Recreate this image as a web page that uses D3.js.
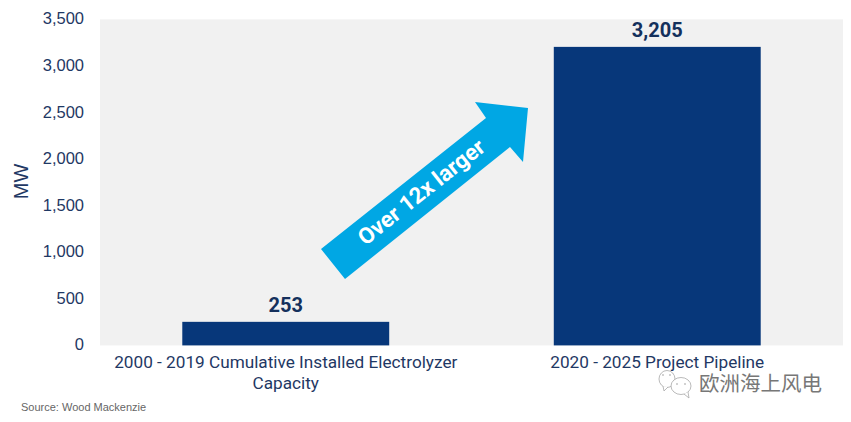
<!DOCTYPE html>
<html>
<head>
<meta charset="utf-8">
<script src="https://d3js.org/d3.v7.min.js"></script>
<style>
  html, body { margin: 0; padding: 0; background: #fff; }
  svg { display: block; }
</style>
</head>
<body>
<svg id="chart" width="851" height="422"></svg>
<script>
const categories = ["2000 - 2019 Cumulative Installed Electrolyzer Capacity", "2020 - 2025 Project Pipeline"];
const values = [253, 3205];
const valueLabels = ["253", "3,205"];
const yTicks = [0, 500, 1000, 1500, 2000, 2500, 3000, 3500];

const navy = "#07377a";
const inkText = "#1f3864";

const svg = d3.select("#chart");
const margin = { top: 19.4, right: 8, bottom: 76.6, left: 100 };
const width = 851 - margin.left - margin.right;
const height = 422 - margin.top - margin.bottom;

const g = svg.append("g").attr("transform", `translate(${margin.left},${margin.top})`);

const x = d3.scaleBand().domain(categories).range([0, width]).paddingInner(0.443).paddingOuter(0.2215);
const y = d3.scaleLinear().domain([0, 3500]).range([height, 0]);

// plot background
g.append("rect")
  .attr("width", width)
  .attr("height", height)
  .attr("fill", "#f1f1f1");

// Y axis
const yAxis = g.append("g")
  .call(d3.axisLeft(y).tickValues(yTicks).tickFormat(d3.format(",")).tickSize(0).tickPadding(16));
yAxis.select(".domain").remove();
yAxis.selectAll("text")
  .attr("dy", "0.27em")
  .style("font-family", "Liberation Sans")
  .style("font-size", "16.5px")
  .attr("fill", inkText);

g.append("text")
  .attr("transform", `translate(-72,${y(1760)})rotate(-90)`)
  .attr("text-anchor", "middle")
  .style("font-family", "Liberation Sans")
  .style("font-size", "20px")
  .attr("fill", inkText)
  .text("MW");

// Bars
g.selectAll(".bar")
  .data(values)
  .join("rect")
  .attr("class", "bar")
  .attr("x", (d, i) => x(categories[i]))
  .attr("y", d => y(d))
  .attr("width", x.bandwidth())
  .attr("height", d => height - y(d))
  .attr("fill", navy);

g.selectAll(".bar-label")
  .data(values)
  .join("text")
  .attr("class", "bar-label")
  .attr("x", (d, i) => x(categories[i]) + x.bandwidth() / 2)
  .attr("y", d => y(d) - 10)
  .attr("text-anchor", "middle")
  .style("font-family", "Roboto")
  .style("font-weight", 700)
  .style("font-size", "20px")
  .attr("fill", "#14305c")
  .text((d, i) => valueLabels[i]);

// X axis labels, first one wraps by hand like the original
const categoryLines = [["2000 - 2019 Cumulative Installed Electrolyzer", "Capacity"], ["2020 - 2025 Project Pipeline"]];
categories.forEach((c, i) => {
  categoryLines[i].forEach((line, j) => {
    g.append("text")
      .attr("x", x(c) + x.bandwidth() / 2)
      .attr("y", height + 23 + j * 21)
      .attr("text-anchor", "middle")
      .style("font-family", "Roboto")
      .style("font-size", "17.2px")
      .attr("fill", inkText)
      .text(line);
  });
});

// Arrow annotation
svg.append("polygon")
  .attr("points", "321,249 345,279 510,147 523,162 528,108 475,102 486,118")
  .attr("fill", "#00a7e4");

svg.append("text")
  .attr("transform", "translate(426,198)rotate(-38.5)")
  .attr("text-anchor", "middle")
  .style("font-family", "Roboto")
  .style("font-weight", 700)
  .style("font-size", "22.5px")
  .attr("fill", "#fff")
  .text("Over 12x larger");

// Source
svg.append("text")
  .attr("x", 21)
  .attr("y", 411)
  .style("font-family", "Liberation Sans")
  .style("font-size", "11px")
  .attr("fill", "#666")
  .text("Source: Wood Mackenzie");

// Watermark
const mark = svg.append("g").attr("fill", "#fff").attr("stroke", "#a8a8a8").attr("stroke-width", 0.8);
mark.append("ellipse").attr("cx", 667).attr("cy", 379).attr("rx", 8).attr("ry", 8.5).attr("transform", "translate(0,0)");
mark.append("path").attr("d", "M663 386 L664 391 L668 387");
mark.append("ellipse").attr("cx", 681).attr("cy", 386).attr("rx", 10).attr("ry", 8.5);
mark.append("path").attr("d", "M684 394 L689 398 L688 392");
mark.selectAll(".eye")
  .data([[663, 375], [670, 375], [677, 384], [685, 384]])
  .join("circle")
  .attr("class", "eye")
  .attr("cx", d => d[0])
  .attr("cy", d => d[1])
  .attr("r", 0.8)
  .attr("fill", "#999")
  .attr("stroke", "none");

svg.append("text")
  .attr("x", 699)
  .attr("y", 391)
  .style("font-family", "Noto Sans CJK SC")
  .style("font-size", "20.5px")
  .attr("fill", "#777")
  .text("欧洲海上风电");
</script>
</body>
</html>
